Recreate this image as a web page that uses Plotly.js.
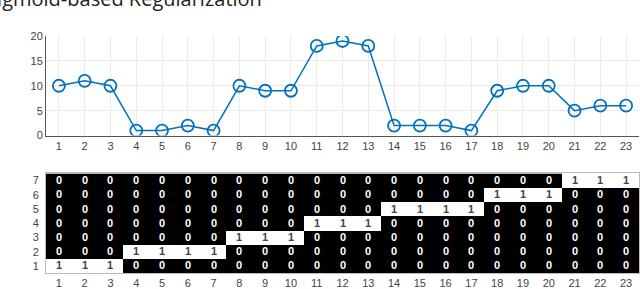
<!DOCTYPE html>
<html><head><meta charset="utf-8">
<script src="https://cdn.plot.ly/plotly-3.0.1.min.js"></script>
<style>html,body{margin:0;padding:0;background:#fff;}#c{width:640px;height:289px;}</style>
</head><body><div id="c"></div>
<script>
const positions = [1,2,3,4,5,6,7,8,9,10,11,12,13,14,15,16,17,18,19,20,21,22,23];
const counts = [10,11,10,1,1,2,1,10,9,9,18,19,18,2,2,2,1,9,10,10,5,6,6];
const levels = [1,2,3,4,5,6,7];
const activeLevel = [1,1,1,2,2,2,2,3,3,3,4,4,4,5,5,5,5,6,6,6,7,7,7];
const titleText = "Sigmoid-based Regularization";

const z = levels.map(l => activeLevel.map(a => a === l ? 1 : 0));

const tickFont = {family: "Liberation Sans, Arial, sans-serif", size: 11, color: "#444"};

const data = [
  {
    x: positions, y: counts, type: "scatter", mode: "lines+markers",
    xaxis: "x", yaxis: "y",
    line: {color: "#0072BD", width: 1.5},
    marker: {symbol: "circle-open", size: 12, color: "#0072BD", line: {width: 1.8, color: "#0072BD"}},
    hoverinfo: "none"
  },
  {
    x: positions, y: levels, z: z, type: "heatmap",
    xaxis: "x2", yaxis: "y2",
    colorscale: [[0, "#000000"], [1, "#ffffff"]],
    zmin: 0, zmax: 1, showscale: false,
    texttemplate: "<b>%{z}</b>",
    textfont: {family: "Liberation Sans, Arial, sans-serif", size: 11},
    xgap: 0, ygap: 0,
    hoverinfo: "none"
  }
];

const layout = {
  width: 640, height: 289,
  margin: {l: 46, r: 1, t: 36, b: 16},
  paper_bgcolor: "#fff", plot_bgcolor: "#fff",
  showlegend: false,
  title: {
    text: titleText,
    font: {family: "Open Sans, sans-serif", size: 20, color: "#222"},
    x: 124/640, xanchor: "center", xref: "container",
    y: 1 - 6/289, yanchor: "bottom", yref: "container"
  },
  xaxis: {
    domain: [0, 1], range: [0.5, 23.5], anchor: "y",
    tickvals: positions, ticktext: positions.map(String),
    showgrid: true, gridcolor: "#ebebeb", gridwidth: 1,
    showline: true, linecolor: "#555", linewidth: 1,
    ticks: "", tickfont: tickFont, zeroline: false
  },
  yaxis: {
    domain: [0.58, 1], range: [0, 20], anchor: "x",
    tickvals: [0,5,10,15,20],
    showgrid: true, gridcolor: "#ebebeb", gridwidth: 1,
    showline: true, linecolor: "#555", linewidth: 1,
    ticks: "", tickfont: tickFont, zeroline: false
  },
  xaxis2: {
    domain: [0, 1], range: [0.5, 23.5], anchor: "y2",
    tickvals: positions, ticktext: positions.map(String),
    showgrid: false, showline: true, mirror: true, linecolor: "#bbb", linewidth: 1,
    ticks: "", tickfont: tickFont, zeroline: false, ticklabelstandoff: 0
  },
  yaxis2: {
    domain: [0, 0.42], range: [0.5, 7.5], anchor: "x2",
    tickvals: levels, ticktext: levels.map(String),
    showgrid: false, showline: true, mirror: true, linecolor: "#bbb", linewidth: 1,
    ticks: "", tickfont: tickFont, zeroline: false, ticklabelstandoff: 4
  }
};

Plotly.newPlot("c", data, layout, {displayModeBar: false, staticPlot: true});
</script></body></html>
